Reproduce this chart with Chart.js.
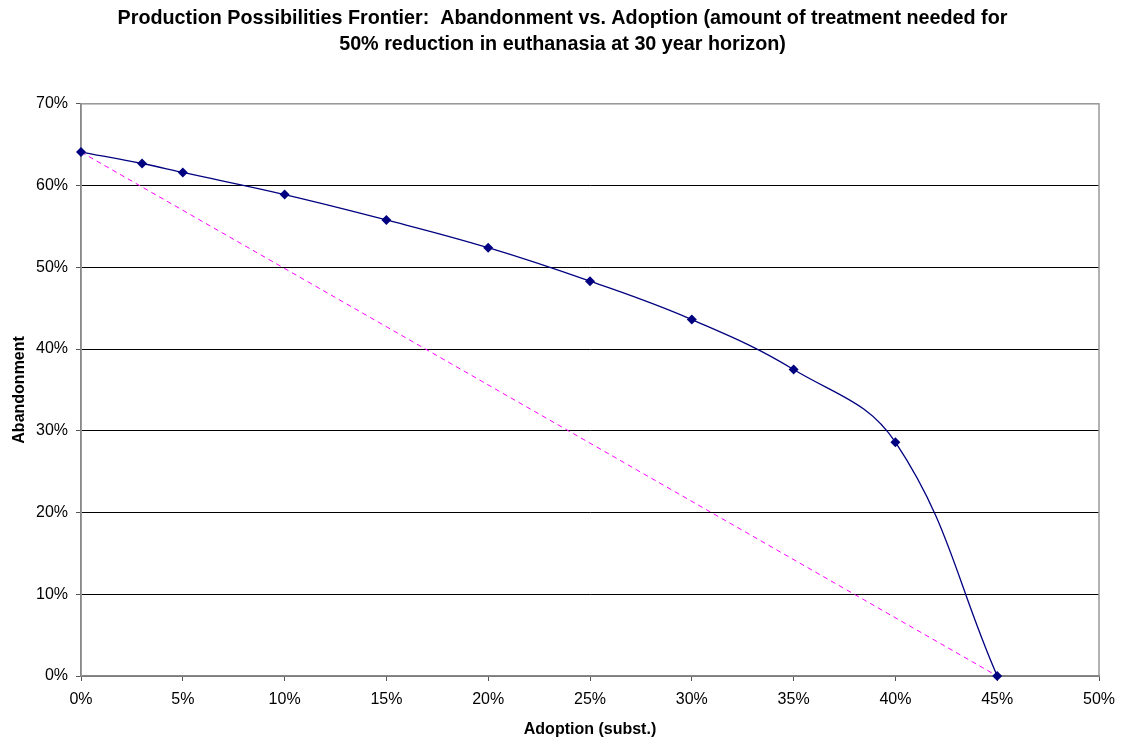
<!DOCTYPE html>
<html>
<head>
<meta charset="utf-8">
<script src="https://cdn.jsdelivr.net/npm/chart.js@4/dist/chart.umd.min.js"></script>
<style>
    html, body { margin: 0; padding: 0; background: #fff; }
    #wrap { width: 1125px; height: 742px; }
</style>
</head>
<body>
<div id="wrap"><canvas id="ppfChart"></canvas></div>
<script>
// values (percent)
const adoption = [0, 3, 5, 10, 15, 20, 25, 30, 35, 40, 45];
const abandonment = [64.1, 62.7, 61.6, 58.9, 55.8, 52.4, 48.3, 43.6, 37.5, 28.6, 0];

// straight reference line between the two end points
const refAdoption = [0, 45];
const refAbandonment = [64.1, 0];

const xTicks = [0, 5, 10, 15, 20, 25, 30, 35, 40, 45, 50];
const yTicks = [0, 10, 20, 30, 40, 50, 60, 70];

const titleLines = [
    'Production Possibilities Frontier:  Abandonment vs. Adoption (amount of treatment needed for',
    '50% reduction in euthanasia at 30 year horizon)'
];

const fontFamily = '"Liberation Sans", Arial, sans-serif';

// gray frame around the plot area (right and top edges)
const plotFrame = {
    id: 'plotFrame',
    beforeDatasetsDraw(chart) {
        const a = chart.chartArea;
        const ctx = chart.ctx;
        ctx.save();
        ctx.strokeStyle = '#999';
        ctx.lineWidth = 1.5;
        ctx.strokeRect(a.left, a.top, a.right - a.left, a.bottom - a.top);
        ctx.restore();
    }
};

document.addEventListener('DOMContentLoaded', function() {
    const ctx = document.getElementById('ppfChart').getContext('2d');
    new Chart(ctx, {
        type: 'scatter',
        data: {
            datasets: [{
                label: 'Frontier',
                data: adoption.map((x, i) => ({ x: x, y: abandonment[i] })),
                showLine: true,
                tension: 0.4,
                clip: false,
                borderColor: '#000080',
                borderWidth: 1.3,
                pointStyle: 'rectRot',
                pointRadius: 5,
                pointBackgroundColor: '#000080',
                pointBorderColor: '#000080',
                pointBorderWidth: 0
            }, {
                label: 'Reference',
                data: refAdoption.map((x, i) => ({ x: x, y: refAbandonment[i] })),
                showLine: true,
                clip: false,
                borderColor: '#FF00FF',
                borderWidth: 1,
                borderDash: [5, 4],
                pointRadius: 0
            }]
        },
        options: {
            responsive: true,
            maintainAspectRatio: false,
            animation: false,
            layout: {
                padding: 0
            },
            plugins: {
                legend: { display: false },
                tooltip: { enabled: false },
                title: {
                    display: true,
                    text: titleLines,
                    color: '#000',
                    font: { family: fontFamily, size: 19.75, weight: 'bold', lineHeight: 1.35 },
                    padding: { top: 5, bottom: 45.5 }
                }
            },
            scales: {
                x: {
                    type: 'linear',
                    min: 0,
                    max: 50,
                    afterBuildTicks: scale => { scale.ticks = xTicks.map(v => ({ value: v })); },
                    afterFit: scale => { scale.height = 66; },
                    grid: {
                        drawOnChartArea: false,
                        drawTicks: true,
                        tickLength: 5,
                        tickColor: '#555'
                    },
                    border: { color: '#555', width: 1.5 },
                    ticks: {
                        color: '#000',
                        padding: 9,
                        maxRotation: 0,
                        font: { family: fontFamily, size: 16 },
                        callback: v => v + '%'
                    },
                    title: {
                        display: true,
                        text: 'Adoption (subst.)',
                        color: '#000',
                        font: { family: fontFamily, size: 16, weight: 'bold' },
                        padding: { top: 0, bottom: 3 }
                    }
                },
                y: {
                    type: 'linear',
                    min: 0,
                    max: 70,
                    afterBuildTicks: scale => { scale.ticks = yTicks.map(v => ({ value: v })); },
                    afterFit: scale => { scale.width = 81; },
                    grid: {
                        color: c => (c.tick && c.tick.value === 70) ? '#999' : '#000',
                        lineWidth: 1,
                        drawTicks: true,
                        tickLength: 5,
                        tickColor: '#555'
                    },
                    border: { color: '#555', width: 1.5 },
                    ticks: {
                        color: '#000',
                        padding: 8,
                        font: { family: fontFamily, size: 16 },
                        callback: v => v + '%'
                    },
                    title: {
                        display: true,
                        text: 'Abandonment',
                        color: '#000',
                        font: { family: fontFamily, size: 16, weight: 'bold' },
                        padding: { top: 10, bottom: 0 }
                    }
                },
                // empty right-hand axis, only keeps the margin on the right
                yRight: {
                    type: 'linear',
                    position: 'right',
                    min: 0,
                    max: 70,
                    afterFit: scale => { scale.width = 26; },
                    grid: { drawOnChartArea: false, drawTicks: false },
                    border: { display: false },
                    ticks: { display: false }
                }
            }
        },
        plugins: [plotFrame]
    });
});
</script>
</body>
</html>
